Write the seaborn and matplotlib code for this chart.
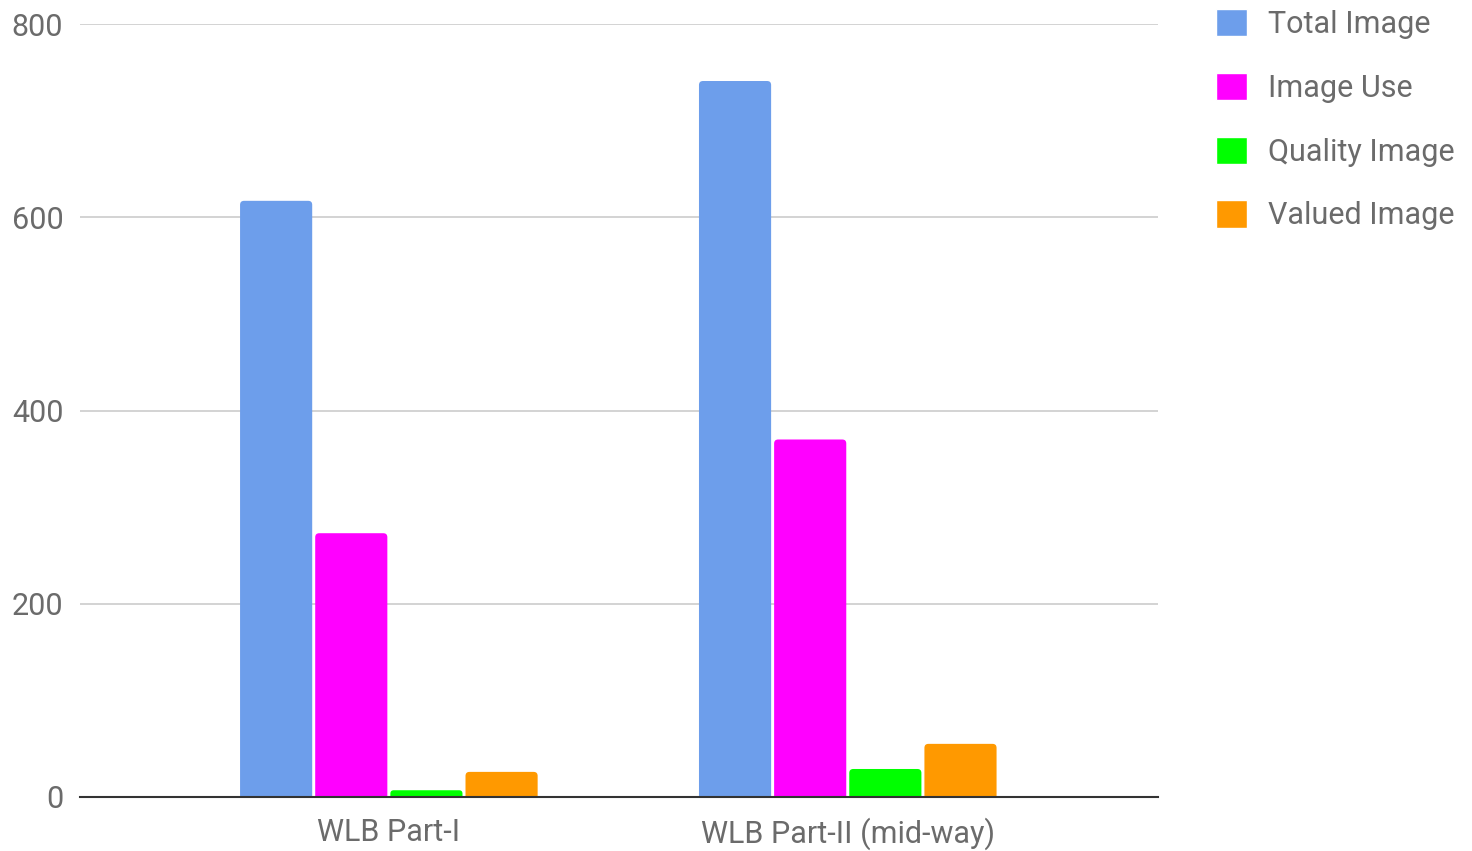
import matplotlib
matplotlib.use("Agg")
import matplotlib.pyplot as plt
from matplotlib.patches import FancyBboxPatch
import seaborn as sns
import pandas as pd

categories = ["WLB Part-I", "WLB Part-II (mid-way)"]
series_names = ["Total Image", "Image Use", "Quality Image", "Valued Image"]
total_image = [617, 741]
image_use = [273, 370]
quality_image = [7, 29]
valued_image = [26, 55]
colors = ["#6d9eeb", "#ff00ff", "#00ff00", "#ff9900"]
y_ticks = [0, 200, 400, 600, 800]

rows = []
for name, vals in zip(series_names, [total_image, image_use, quality_image, valued_image]):
    for c, v in zip(categories, vals):
        rows.append({"category": c, "series": name, "value": v})
df = pd.DataFrame(rows)

sns.set_theme(style="white")
plt.rcParams["font.family"] = ["Roboto", "DejaVu Sans"]
text_color = "#6b6b6b"

fig = plt.figure(figsize=(14.72, 8.51), dpi=100)
ax = fig.add_axes([80 / 1472, 1 - 797 / 851, (1158 - 80) / 1472, (797 - 24) / 851])

sns.barplot(data=df, x="category", y="value", hue="series", order=categories,
            hue_order=series_names, palette=colors, width=0.655, gap=0.04,
            saturation=1, ax=ax, legend=True)

ax.set_ylim(0, 800)
ax.set_xlim(-0.673, 1.676)
ax.set_yticks(y_ticks)
ax.set_yticklabels([str(t) for t in y_ticks])
ax.set_xlabel("")
ax.set_ylabel("")
ax.yaxis.grid(True, color="#cccccc", linewidth=1.2)
ax.set_axisbelow(True)
for s in ["left", "right", "top"]:
    ax.spines[s].set_visible(False)
ax.spines["bottom"].set_color("#333333")
ax.spines["bottom"].set_linewidth(1.5)
ax.spines["bottom"].set_zorder(5)
ax.tick_params(axis="both", length=0, labelsize=22, labelcolor=text_color)
ax.tick_params(axis="y", pad=12)
ax.tick_params(axis="x", pad=15)

# rounded top corners on bars (derived from seaborn's own bar patches)
fig.canvas.draw()
bbox = ax.get_window_extent()
x0l, x1l = ax.get_xlim()
y0l, y1l = ax.get_ylim()
xu_per_px = (x1l - x0l) / bbox.width
yu_per_px = (y1l - y0l) / bbox.height
aspect = yu_per_px / xu_per_px
radius_px = 4
for p in list(ax.patches):
    x, y = p.get_x(), p.get_y()
    w, h = p.get_width(), p.get_height()
    if h <= 0:
        continue
    r_x = radius_px * xu_per_px
    r_x = min(r_x, (h / aspect) / 2, w / 2)
    ext = r_x * aspect
    fb = FancyBboxPatch((x, y - ext), w, h + ext,
                        boxstyle=f"round,pad=0,rounding_size={r_x}",
                        mutation_aspect=aspect, facecolor=p.get_facecolor(),
                        edgecolor="none", linewidth=0, zorder=p.get_zorder())
    p.set_visible(False)
    ax.add_patch(fb)

handles, labels = ax.get_legend_handles_labels()
ax.legend(handles, labels, loc="upper left", bbox_to_anchor=(1216 / 1472, 1 - 9 / 851),
          bbox_transform=fig.transFigure, frameon=False, fontsize=22,
          handlelength=1.0, handleheight=1.0, handletextpad=0.7,
          labelspacing=1.1, borderpad=0, borderaxespad=0, labelcolor=text_color)

fig.savefig("out.png", dpi=100, facecolor="white")
